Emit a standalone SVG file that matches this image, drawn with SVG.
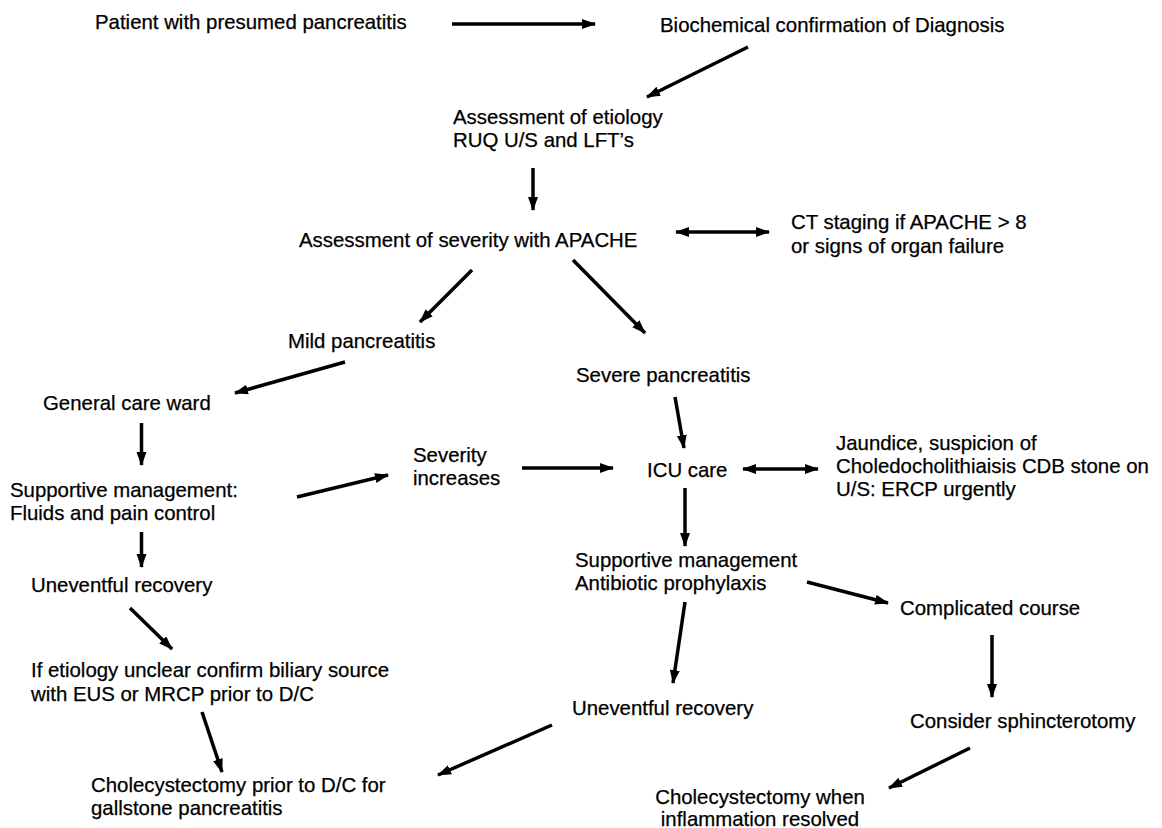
<svg xmlns="http://www.w3.org/2000/svg" width="1162" height="828" viewBox="0 0 1162 828">
<defs>
<style>
text{font-family:"Liberation Sans",Arial,sans-serif;font-size:20.4px;fill:#000;stroke:#000;stroke-width:0.25}
.c line{stroke:#000;stroke-width:3.5;marker-end:url(#ah)}
.c line.d{marker-start:url(#ah)}
</style>
<marker id="ah" markerUnits="userSpaceOnUse" markerWidth="16" markerHeight="12" refX="13" refY="5" orient="auto-start-reverse"><path d="M0,0 L14,5 L0,10 z" fill="#000"/></marker>
</defs>
<rect width="1162" height="828" fill="#fff"/>
<g class="c" id="connectors">
<line x1="452" y1="24" x2="595" y2="24"/>
<line x1="748" y1="47" x2="647" y2="97"/>
<line x1="533" y1="168" x2="533" y2="210"/>
<line class="d" x1="676" y1="232" x2="769" y2="232"/>
<line x1="472" y1="270" x2="420" y2="322"/>
<line x1="573" y1="260" x2="645" y2="333"/>
<line x1="345" y1="362" x2="235" y2="393"/>
<line x1="141.5" y1="423" x2="141.5" y2="465"/>
<line x1="297" y1="497" x2="388" y2="475"/>
<line x1="522" y1="468" x2="613" y2="468"/>
<line x1="675" y1="397" x2="684" y2="448"/>
<line class="d" x1="743" y1="469" x2="818" y2="469"/>
<line x1="685" y1="488" x2="685" y2="546"/>
<line x1="141.5" y1="532" x2="141.5" y2="567"/>
<line x1="807" y1="582" x2="888" y2="603"/>
<line x1="130" y1="608" x2="172" y2="649"/>
<line x1="685" y1="602" x2="673" y2="683"/>
<line x1="992" y1="635" x2="992" y2="697"/>
<line x1="202" y1="712" x2="222" y2="772"/>
<line x1="552" y1="725" x2="438" y2="775"/>
<line x1="970" y1="748" x2="889" y2="788"/>
</g>
<g id="n1"><text x="95" y="29">Patient with presumed pancreatitis</text></g>
<g id="n2"><text x="660" y="32">Biochemical confirmation of Diagnosis</text></g>
<g id="n3"><text x="453" y="124">Assessment of etiology</text><text x="453" y="147">RUQ U/S and LFT’s</text></g>
<g id="n4"><text x="299" y="247">Assessment of severity with APACHE</text></g>
<g id="n5"><text x="791" y="229">CT staging if APACHE &gt; 8</text><text x="791" y="253">or signs of organ failure</text></g>
<g id="n6"><text x="288" y="348">Mild pancreatitis</text></g>
<g id="n7"><text x="576" y="382">Severe pancreatitis</text></g>
<g id="n8"><text x="43" y="410">General care ward</text></g>
<g id="n9"><text x="10" y="497">Supportive management:</text><text x="10" y="520">Fluids and pain control</text></g>
<g id="n10"><text x="413" y="462">Severity</text><text x="413" y="485">increases</text></g>
<g id="n11"><text x="647" y="477">ICU care</text></g>
<g id="n12"><text x="836" y="450">Jaundice, suspicion of</text><text x="836" y="473">Choledocholithiaisis CDB stone on</text><text x="836" y="496">U/S: ERCP urgently</text></g>
<g id="n13"><text x="575" y="567">Supportive management</text><text x="575" y="590">Antibiotic prophylaxis</text></g>
<g id="n14"><text x="31" y="592">Uneventful recovery</text></g>
<g id="n15"><text x="900" y="615">Complicated course</text></g>
<g id="n16"><text x="31" y="677">If etiology unclear confirm biliary source</text><text x="31" y="701">with EUS or MRCP prior to D/C</text></g>
<g id="n17"><text x="572" y="715">Uneventful recovery</text></g>
<g id="n18"><text x="910" y="728">Consider sphincterotomy</text></g>
<g id="n19"><text x="91" y="792">Cholecystectomy prior to D/C for</text><text x="91" y="815">gallstone pancreatitis</text></g>
<g id="n20"><text x="760" y="804" text-anchor="middle">Cholecystectomy when</text><text x="760" y="826" text-anchor="middle">inflammation resolved</text></g>
</svg>
